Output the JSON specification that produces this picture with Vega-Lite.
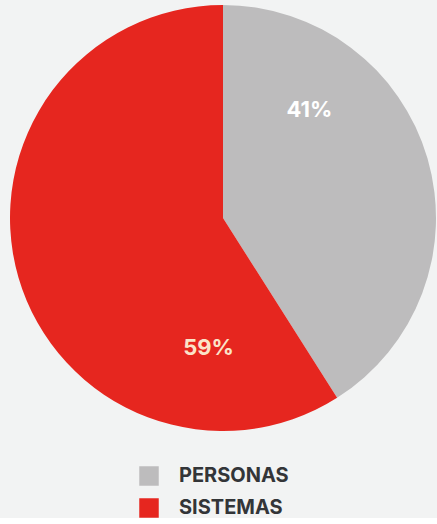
{
  "$schema": "https://vega.github.io/schema/vega-lite/v6.json",
  "width": 446,
  "height": 436,
  "padding": 0,
  "background": "#f2f3f3",
  "data": {"values": [
    {"categoria": "PERSONAS", "valor": 41, "etiqueta": "41%"},
    {"categoria": "SISTEMAS", "valor": 59, "etiqueta": "59%"}
  ]},
  "encoding": {
    "theta": {"field": "valor", "type": "quantitative", "stack": true},
    "color": {
      "field": "categoria", "type": "nominal",
      "scale": {"domain": ["PERSONAS", "SISTEMAS"], "range": ["#bdbcbd", "#e6261f"]},
      "legend": {
        "title": null, "orient": "none", "legendX": 139, "legendY": 466,
        "symbolType": "square", "symbolSize": 380, "symbolStrokeWidth": 0,
        "labelFont": "Inter", "labelFontSize": 20, "labelFontWeight": "bold",
        "labelColor": "#333538", "labelOffset": 20, "rowPadding": 12, "padding": 0
      }
    },
    "order": {"field": "categoria"}
  },
  "layer": [
    {"mark": {"type": "arc", "outerRadius": 213}},
    {
      "mark": {"type": "text", "radius": 140, "dx": -48, "dy": -69, "font": "Inter", "fontSize": 22, "fontWeight": "bold", "fill": "#ffffff"},
      "encoding": {
        "text": {"condition": {"test": "datum.categoria === 'PERSONAS'", "field": "etiqueta"}, "value": ""},
        "color": {"value": "#ffffff"}
      }
    },
    {
      "mark": {"type": "text", "radius": 140, "dx": 120, "dy": 91, "font": "Inter", "fontSize": 22, "fontWeight": "bold", "fill": "#fbe3c8"},
      "encoding": {
        "text": {"condition": {"test": "datum.categoria === 'SISTEMAS'", "field": "etiqueta"}, "value": ""},
        "color": {"value": "#fbe3c8"}
      }
    }
  ],
  "config": {"view": {"stroke": null}}
}
